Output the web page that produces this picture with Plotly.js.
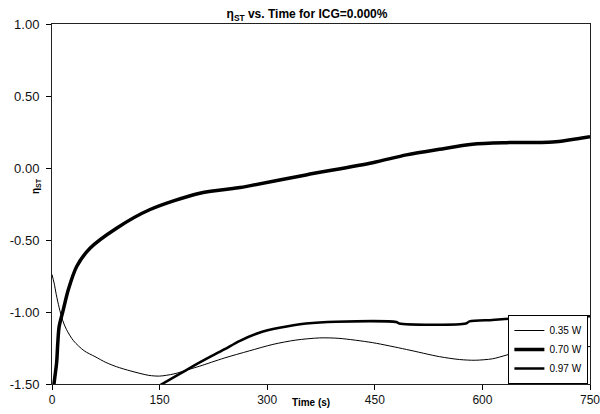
<!DOCTYPE html>
<html>
<head>
<meta charset="utf-8">
<script src="https://cdn.plot.ly/plotly-3.0.1.min.js"></script>
<style>html,body{margin:0;padding:0;background:#fff;}#chart{width:600px;height:414px;}</style>
</head>
<body>
<div id="chart"></div>
<script>
// Time (s) and eta_ST values per series
const time035 = [0, 3, 6, 10, 15, 20, 30, 45, 60, 75, 90, 110, 135, 150, 170, 190, 206, 240, 275, 308, 340, 373, 400, 447, 494, 540, 568, 590, 614, 633, 647, 660, 700, 750];
const eta035  = [-0.74, -0.80, -0.88, -0.97, -1.06, -1.12, -1.20, -1.27, -1.31, -1.35, -1.38, -1.41, -1.44, -1.445, -1.43, -1.40, -1.376, -1.32, -1.27, -1.225, -1.195, -1.18, -1.183, -1.213, -1.26, -1.31, -1.33, -1.335, -1.325, -1.30, -1.28, -1.265, -1.25, -1.24];

const time070 = [2.5, 4, 6.5, 8, 10, 15.7, 22.7, 34.4, 53, 90, 136, 206, 262, 275, 354, 447, 494, 540, 586, 633, 698, 750];
const eta070  = [-1.51, -1.45, -1.35, -1.22, -1.10, -0.985, -0.846, -0.684, -0.557, -0.418, -0.29, -0.175, -0.136, -0.124, -0.048, 0.037, 0.091, 0.13, 0.165, 0.176, 0.181, 0.218];

const time097 = [150, 178, 206, 240, 262, 289, 317, 354, 396, 480, 484, 577, 582, 614, 647, 700, 750];
const eta097  = [-1.51, -1.43, -1.35, -1.26, -1.20, -1.144, -1.11, -1.08, -1.067, -1.07, -1.08, -1.08, -1.065, -1.055, -1.045, -1.04, -1.03];

const seriesNames = ['0.35 W', '0.70 W', '0.97 W'];
const xTicks = [0, 150, 300, 450, 600, 750];
const yTicks = [1.0, 0.5, 0.0, -0.5, -1.0, -1.5];
const yTickText = ['1.00', '0.50', '0.00', '-0.50', '-1.00', '-1.50'];

const traces = [
  {x: time035, y: eta035, name: seriesNames[0], mode: 'lines', line: {color: '#000', width: 1, shape: 'spline', smoothing: 0.8}},
  {x: time070, y: eta070, name: seriesNames[1], mode: 'lines', line: {color: '#000', width: 3.5, shape: 'spline', smoothing: 0.8}},
  {x: time097, y: eta097, name: seriesNames[2], mode: 'lines', line: {color: '#000', width: 2.5, shape: 'spline', smoothing: 0.8}}
];

const layout = {
  width: 600, height: 414,
  margin: {l: 52, r: 10, t: 24, b: 30, pad: 0},
  paper_bgcolor: '#fff', plot_bgcolor: '#fff',
  font: {family: 'Liberation Sans, Arial, sans-serif', color: '#000', size: 12},
  title: {text: '<b>η<sub>ST</sub> vs. Time for ICG=0.000%</b>', font: {size: 12, color: '#000'},
          xref: 'container', x: 307/600, xanchor: 'center', yref: 'container', y: 1 - 14/414, yanchor: 'middle'},
  xaxis: {range: [0, 750], tickvals: xTicks, ticktext: xTicks.map(String), ticks: 'outside', ticklen: 5, tickwidth: 1,
          tickcolor: '#000', showline: true, linecolor: '#222', linewidth: 1, mirror: true, showgrid: false, zeroline: false,
          tickfont: {size: 12, color: '#111'}, ticklabeloverflow: 'allow', fixedrange: true},
  yaxis: {range: [-1.5, 1.0], tickvals: yTicks, ticktext: yTickText, ticks: 'outside', ticklen: 5, tickwidth: 1,
          tickcolor: '#000', showline: true, linecolor: '#222', linewidth: 1, mirror: true, showgrid: false, zeroline: false,
          tickfont: {size: 13, color: '#111'}, ticklabelstandoff: 4, fixedrange: true},
  showlegend: true,
  legend: {x: 0.997, xanchor: 'right', y: 0.0, yanchor: 'bottom', bgcolor: '#fff', bordercolor: '#000', borderwidth: 1,
           font: {size: 10, color: '#000'}, tracegroupgap: 0, itemwidth: 30},
  annotations: [
    {text: '<b>Time (s)</b>', xref: 'paper', yref: 'paper', x: (311-52)/538, y: -18/360, xanchor: 'center', yanchor: 'middle',
     showarrow: false, font: {size: 10, color: '#000'}},
    {text: '<b>η<sub>ST</sub></b>', xref: 'paper', yref: 'paper', x: -16/538, y: (384-186)/360, xanchor: 'center', yanchor: 'middle',
     textangle: -90, showarrow: false, font: {size: 10, color: '#000'}}
  ]
};

Plotly.newPlot('chart', traces, layout, {displayModeBar: false, staticPlot: true});
</script>
</body>
</html>
